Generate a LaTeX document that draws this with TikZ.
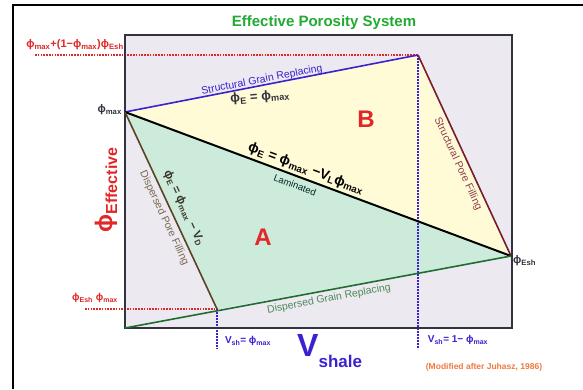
\documentclass[tikz,border=0pt]{standalone}
\usepackage{fontspec}
\setmainfont{Liberation Sans}
\definecolor{lav}{HTML}{ECE9F0}
\definecolor{ylw}{HTML}{FFFBD6}
\definecolor{mint}{HTML}{CDEBDA}
\definecolor{bluel}{HTML}{3A22D0}
\definecolor{maroon}{HTML}{7A1A2E}
\definecolor{brownl}{HTML}{5A4424}
\definecolor{greenl}{HTML}{1E6E30}
\definecolor{redt}{HTML}{E02828}
\definecolor{titleg}{HTML}{22AA33}
\definecolor{orng}{HTML}{F07A40}
\definecolor{dgray}{HTML}{333340}
\newcommand\fs[1]{\fontsize{#1}{#1}\selectfont}
\newcommand\sbs[1]{\textsubscript{#1}}
\begin{document}
\begin{tikzpicture}[x=1pt,y=-1pt,
  lbl/.style={inner sep=0pt, anchor=center},
  reddot/.style={redt, line width=2pt, dash pattern=on 1.6pt off 1.2pt},
  bluedot/.style={bluel, line width=1.6pt, dash pattern=on 1.6pt off 1.4pt},
  phaseline/.style={line width=1.6pt}]
\useasboundingbox (0,0) rectangle (583,389);
\fill[white] (0,0) rectangle (583,389);
% outer frame
\draw[line width=2pt] (13,389) -- (13,5) -- (583,5);
% coordinates
\coordinate (tl) at (125,35);
\coordinate (br) at (512,328);
\coordinate (pmax) at (125,112);
\coordinate (top) at (418,55);
\coordinate (esh) at (511,256);
\coordinate (dpf) at (217,309);
\coordinate (bl) at (125,328);
\coordinate (rtop) at (35,55);
\coordinate (rbot) at (85,309);
\coordinate (b1) at (217,349);
\coordinate (b2) at (418,349);
% fills
\fill[lav] (tl) rectangle (br);
\fill[ylw] (pmax) -- (top) -- (esh) -- cycle;
\fill[mint] (pmax) -- (esh) -- (dpf) -- cycle;
% dotted guides
\draw[reddot] (rtop) -- (top);
\draw[reddot] (rbot) -- (dpf);
\draw[bluedot] (dpf) -- (b1);
\draw[bluedot] (top) -- (b2);
% box
\draw[dgray, line width=1.5pt] (tl) rectangle (br);
% lines
\draw[phaseline, bluel] (pmax) -- (top);
\draw[phaseline, maroon] (top) -- (esh);
\draw[line width=2pt, black] (pmax) -- (esh);
\draw[phaseline, brownl] (pmax) -- (dpf);
\draw[phaseline, greenl] (bl) -- (esh);
% title
\node[lbl, titleg] (title) at (324,23) {\fs{15}\bfseries Effective Porosity System};
% line labels
\node[lbl, bluel, rotate=11] (sgr) at (262,80) {\fs{10.5}Structural Grain Replacing};
\node[lbl, dgray, rotate=5] (eq1) at (260,97) {\fs{13}\bfseries ϕ\sbs{E} = ϕ\sbs{max}};
\node[lbl, black, rotate=-20.5] (eq2) at (306,169) {\fs{14}\bfseries ϕ\sbs{E} = ϕ\sbs{max} −V\sbs{L}ϕ\sbs{max}};
\node[lbl, black!70!teal, rotate=-20.5] (lam) at (295,185) {\fs{9.5}Laminated};
\node[lbl, maroon!85!white, rotate=-65.2] (spf) at (458,164) {\fs{10.5}Structural Pore Filling};
\node[lbl, brownl!80!white, rotate=-65] (dpfl) at (164,218) {\fs{10.5}Dispersed Pore Filling};
\node[lbl, black!75!olive, rotate=-65] (eq3) at (184,208) {\fs{12}\bfseries ϕ\sbs{E} = ϕ\sbs{max} − V\sbs{D}};
\node[lbl, greenl!80!white, rotate=10.6] (dgr) at (329,299) {\fs{10.5}Dispersed Grain Replacing};
\node[lbl, redt] (B) at (366,119) {\fs{24}\bfseries B};
\node[lbl, redt] (A) at (263,237) {\fs{24}\bfseries A};
% axis labels
\node[inner sep=0pt, anchor=east, dgray] (lpmax) at (122,110) {\fs{11}\bfseries ϕ\sbs{max}};
\node[inner sep=0pt, anchor=west, dgray] (lesh) at (513,261) {\fs{11}\bfseries ϕ\sbs{Esh}};
\node[lbl, redt] (ltop) at (75,45) {\fs{11}\bfseries ϕ\sbs{max}+(1−ϕ\sbs{max})ϕ\sbs{Esh}};
\node[lbl, redt] (lbot) at (95,298) {\fs{10}\bfseries ϕ\sbs{Esh} ϕ\sbs{max}};
\node[lbl, redt, rotate=90] (yax) at (106,190) {{\fs{24}\bfseries ϕ}\raisebox{-5pt}{\fs{16}\bfseries Effective}};
\node[lbl, bluel] (v1) at (248,341) {\fs{10}\bfseries V\sbs{sh}= ϕ\sbs{max}};
\node[lbl, bluel] (v2) at (458,340) {\fs{10}\bfseries V\sbs{sh}= 1− ϕ\sbs{max}};
\node[inner sep=0pt, anchor=base west, bluel] (xax) at (297,356) {\fs{32}\bfseries V\raisebox{-11pt}{\fs{17}shale}};
\node[lbl, orng] (mod) at (484,367) {\fs{8.5}\bfseries (Modified after Juhasz, 1986)};
\end{tikzpicture}
\end{document}
